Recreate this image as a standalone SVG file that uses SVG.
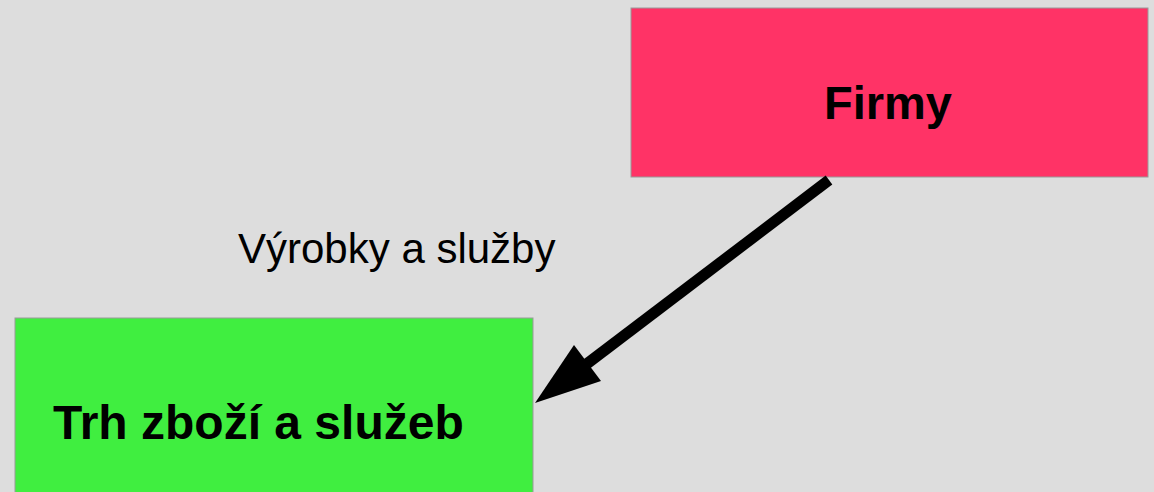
<svg xmlns="http://www.w3.org/2000/svg" width="1154" height="492" viewBox="0 0 1154 492">
<style>
.box{stroke:#9a9a9a;stroke-width:1}
.bold{font-family:"Liberation Sans",Arial,sans-serif;font-weight:bold;font-size:47px;fill:#000}
.lbl{font-family:"Liberation Sans",Arial,sans-serif;font-size:42px;fill:#000}
</style>
<rect width="1154" height="492" fill="#dddddd"/>
<g id="firmy">
<rect class="box" x="631" y="8" width="517" height="169" fill="#ff3366"/>
<text class="bold" x="888" y="119" text-anchor="middle">Firmy</text>
</g>
<g id="trh">
<rect class="box" x="15" y="318" width="518" height="180" fill="#40ee40"/>
<text class="bold" x="53" y="439" style="font-size:48px">Trh zboží a služeb</text>
</g>
<g id="connectors">
<line x1="829" y1="180" x2="584" y2="366" stroke="#000" stroke-width="11"/>
<polygon points="535,403 574,345 601,381" fill="#000"/>
<text class="lbl" x="238" y="263">Výrobky a služby</text>
</g>
</svg>
